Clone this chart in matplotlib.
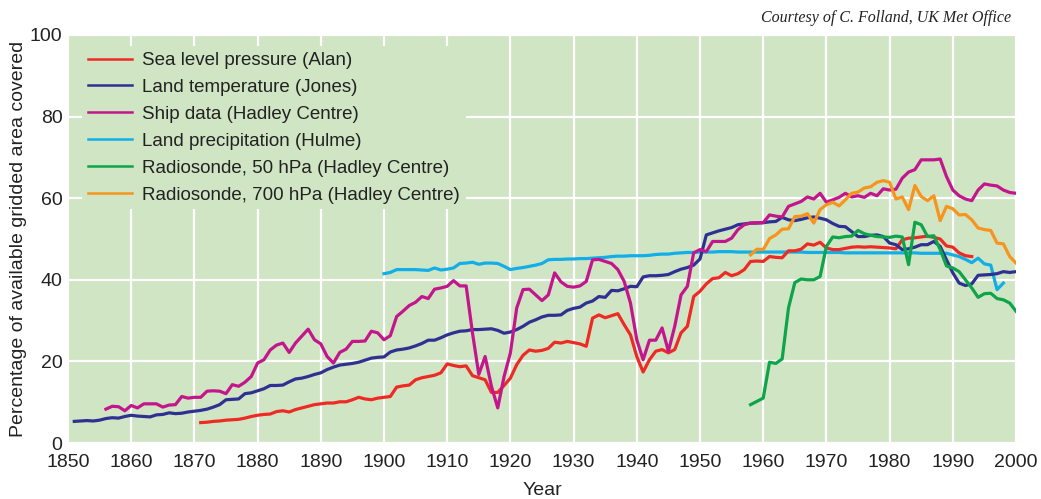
#!/usr/bin/env python3
"""Fraction of gridded area covered by climate data sets, 1850-2000."""

import matplotlib
matplotlib.use("Agg")
import matplotlib.pyplot as plt
import numpy as np

# ---- data (percent of available gridded area covered), annual values
slp_start = 1871
slp = [5.0, 5.1, 5.3, 5.4, 5.6, 5.7, 5.8, 6.1, 6.5, 6.8,
       7.0, 7.1, 7.7, 7.9, 7.6, 8.2, 8.6, 9.0, 9.4, 9.6,
       9.8, 9.8, 10.1, 10.1, 10.6, 11.2, 10.8, 10.6, 11.0, 11.2,
       11.4, 13.7, 14.0, 14.2, 15.5, 16.0, 16.3, 16.6, 17.2, 19.4,
       19.0, 18.7, 18.9, 16.5, 16.0, 15.5, 12.4, 12.4, 14.1, 15.9,
       19.2, 21.5, 22.8, 22.5, 22.7, 23.2, 24.7, 24.5, 24.9, 24.6,
       24.3, 23.7, 30.6, 31.4, 30.7, 31.2, 31.7, 29.0, 26.5, 21.2,
       17.4, 20.4, 22.5, 22.9, 22.1, 22.9, 27.0, 28.6, 35.9, 37.2,
       39.0, 40.3, 40.5, 41.8, 41.0, 41.5, 42.5, 44.5, 44.6, 44.5,
       45.7, 45.5, 45.4, 47.1, 47.1, 47.5, 48.8, 48.5, 49.2, 47.8,
       47.4, 47.4, 47.7, 48.0, 48.1, 48.0, 48.1, 48.0, 47.9, 47.8,
       47.6, 49.8, 50.2, 50.3, 50.5, 50.7, 50.4, 50.0, 48.3, 48.0,
       46.6, 45.9, 45.7]

land_temp_start = 1851
land_temp = [5.3, 5.4, 5.5, 5.4, 5.6, 6.0, 6.2, 6.1, 6.5, 6.8,
             6.6, 6.5, 6.4, 6.9, 7.0, 7.4, 7.2, 7.3, 7.6, 7.8,
             8.0, 8.3, 8.8, 9.4, 10.6, 10.7, 10.8, 12.1, 12.3, 12.8,
             13.3, 14.1, 14.1, 14.2, 15.0, 15.7, 15.9, 16.3, 16.8, 17.2,
             18.0, 18.6, 19.1, 19.3, 19.5, 19.8, 20.3, 20.8, 21.0, 21.1,
             22.3, 22.8, 23.0, 23.3, 23.8, 24.4, 25.2, 25.2, 25.8, 26.5,
             27.0, 27.4, 27.5, 27.8, 27.8, 27.9, 28.0, 27.6, 26.9, 27.2,
             27.8, 28.6, 29.6, 30.2, 30.9, 31.3, 31.3, 31.4, 32.5, 33.0,
             33.3, 34.3, 34.8, 35.9, 35.7, 37.4, 37.3, 37.8, 38.4, 38.3,
             40.7, 41.0, 41.0, 41.1, 41.3, 42.0, 42.6, 43.0, 43.6, 45.1,
             51.0, 51.5, 52.0, 52.4, 52.8, 53.5, 53.7, 53.9, 53.9, 54.0,
             54.2, 54.3, 55.3, 54.7, 54.5, 54.8, 55.2, 55.4, 55.1, 54.7,
             53.8, 53.1, 53.0, 51.8, 50.6, 50.6, 50.9, 51.0, 50.6, 49.0,
             48.6, 47.4, 47.6, 48.0, 48.6, 48.6, 49.4, 48.2, 44.9, 41.7,
             39.2, 38.6, 39.0, 41.1, 41.2, 41.3, 41.5, 42.0, 41.8, 42.0]

ship_start = 1856
ship = [8.3, 9.0, 8.9, 7.9, 9.2, 8.6, 9.6, 9.6, 9.6, 8.8,
        9.3, 9.4, 11.4, 11.0, 11.2, 11.2, 12.7, 12.8, 12.7, 12.1,
        14.3, 13.9, 14.9, 16.3, 19.6, 20.4, 22.8, 24.0, 24.5, 22.2,
        24.5, 26.2, 27.9, 25.3, 24.3, 21.2, 19.6, 22.2, 23.0, 24.9,
        24.9, 25.0, 27.4, 27.0, 25.3, 26.3, 31.0, 32.3, 33.7, 34.5,
        35.9, 35.4, 37.7, 38.0, 38.4, 39.8, 38.5, 38.5, 27.0, 16.8,
        21.2, 13.9, 8.6, 16.3, 22.1, 33.1, 37.6, 37.7, 36.3, 34.9,
        36.3, 41.7, 39.5, 38.4, 38.2, 38.5, 39.6, 44.9, 45.0, 44.5,
        44.0, 42.5, 39.6, 34.3, 25.3, 20.4, 25.2, 25.2, 28.2, 22.5,
        28.6, 36.3, 38.4, 46.6, 47.4, 46.9, 49.4, 49.4, 49.4, 50.2,
        52.3, 53.5, 53.9, 54.0, 54.0, 55.9, 55.6, 55.4, 58.0, 58.6,
        59.2, 60.3, 59.8, 61.2, 59.0, 59.6, 60.2, 61.2, 60.3, 60.6,
        60.2, 61.2, 60.6, 62.3, 62.0, 62.2, 64.9, 66.4, 67.0, 69.4,
        69.4, 69.4, 69.6, 65.3, 62.0, 60.6, 59.8, 59.4, 62.0, 63.5,
        63.2, 63.0, 62.0, 61.4, 61.2]

precip_start = 1900
precip = [41.5, 41.8, 42.5, 42.5, 42.5, 42.5, 42.4, 42.3, 42.9, 42.4,
          42.6, 42.9, 44.0, 44.1, 44.3, 43.8, 44.1, 44.1, 44.0, 43.3,
          42.5, 42.8, 43.0, 43.3, 43.6, 44.0, 44.9, 45.0, 45.0, 45.1,
          45.1, 45.2, 45.2, 45.3, 45.4, 45.5, 45.7, 45.8, 45.8, 45.9,
          45.9, 45.9, 46.0, 46.2, 46.3, 46.3, 46.5, 46.6, 46.7, 46.7,
          46.8, 46.8, 46.8, 46.9, 46.9, 46.9, 46.8, 46.8, 46.8, 46.8,
          46.8, 46.8, 46.8, 46.8, 46.8, 46.8, 46.8, 46.7, 46.7, 46.7,
          46.7, 46.7, 46.7, 46.6, 46.6, 46.6, 46.6, 46.6, 46.6, 46.6,
          46.6, 46.6, 46.6, 46.6, 46.6, 46.5, 46.5, 46.5, 46.5, 46.5,
          46.1, 45.7, 45.0, 44.2, 45.3, 43.9, 43.6, 37.6, 39.2]

rs50_start = 1958
rs50 = [9.4, 10.2, 11.0, 19.8, 19.5, 20.6, 33.1, 39.3, 40.2, 40.0,
        40.0, 40.8, 48.2, 50.5, 50.3, 50.6, 50.7, 52.1, 51.3, 50.9,
        50.6, 50.5, 50.4, 50.7, 50.5, 43.7, 54.1, 53.5, 50.6, 50.8,
        47.4, 43.4, 42.9, 42.0, 40.0, 38.0, 35.7, 36.6, 36.7, 35.4,
        35.1, 34.3, 32.3]

rs700_start = 1958
rs700 = [46.1, 47.5, 47.4, 50.1, 51.0, 52.4, 52.5, 55.5, 55.6, 56.2,
         53.9, 57.2, 58.4, 59.0, 58.1, 59.6, 61.2, 61.5, 62.5, 62.8,
         63.9, 64.3, 63.9, 59.8, 60.3, 57.2, 63.1, 60.4, 59.4, 60.6,
         54.5, 58.0, 57.4, 55.9, 56.0, 54.7, 52.7, 52.3, 52.1, 49.0,
         48.8, 45.7, 44.1]

labels = [
    "Sea level pressure (Alan)",
    "Land temperature (Jones)",
    "Ship data (Hadley Centre)",
    "Land precipitation (Hulme)",
    "Radiosonde, 50 hPa (Hadley Centre)",
    "Radiosonde, 700 hPa (Hadley Centre)",
]
colors = ["#ee2a24", "#2e3192", "#c4168c", "#12aee8", "#0ea44a", "#f7941d"]

x_ticks = list(range(1850, 2001, 10))
y_ticks = [0, 20, 40, 60, 80, 100]

BG = "#d0e5c4"


def main():
    plt.rcParams["font.family"] = ["Liberation Sans", "DejaVu Sans"]

    fig = plt.figure(figsize=(10.41, 4.99), dpi=100)
    ax = fig.add_axes([0.0653, 0.1122, 0.9107, 0.8177])
    ax.set_facecolor(BG)

    series = [
        (slp_start, slp),
        (land_temp_start, land_temp),
        (ship_start, ship),
        (precip_start, precip),
        (rs50_start, rs50),
        (rs700_start, rs700),
    ]
    # draw order: later series on top, roughly as in the original
    order = [3, 0, 1, 2, 4, 5]
    for i in order:
        start, vals = series[i]
        years = np.arange(start, start + len(vals))
        ax.plot(years, vals, color=colors[i], lw=2.3,
                solid_joinstyle="round", zorder=3)

    ax.set_xlim(1850, 2000)
    ax.set_ylim(0, 100)
    ax.set_xticks(x_ticks)
    ax.set_yticks(y_ticks)
    ax.tick_params(length=0, labelsize=14, colors="#222222", pad=8)
    ax.tick_params(axis="y", pad=4)
    ax.grid(True, color="white", lw=1.6)
    ax.set_axisbelow(True)
    for sp in ax.spines.values():
        sp.set_visible(False)

    ax.set_xlabel("Year", fontsize=14, color="#222222", labelpad=8)
    ax.set_ylabel("Percentage of available gridded area covered",
                  fontsize=14, color="#222222")
    ax.yaxis.label.set_va("center")
    ax.yaxis.set_label_coords(-0.0527, 0.5)

    handles = [plt.Line2D([], [], color=c, lw=1.8) for c in colors]
    leg = ax.legend(handles, labels, loc="upper left",
                    bbox_to_anchor=(0.015, 0.972), borderaxespad=0,
                    fontsize=13.5, frameon=True, facecolor=BG,
                    edgecolor="none", framealpha=1.0, fancybox=False,
                    handlelength=2.35, handletextpad=0.55,
                    labelspacing=0.52, borderpad=0.3)
    for t in leg.get_texts():
        t.set_color("#222222")
    leg.set_zorder(2.5)

    fig.text(1011 / 1041, 1 - 18 / 499, "Courtesy of C. Folland, UK Met Office",
             ha="right", va="center", fontsize=11.5, style="italic",
             family=["Liberation Serif", "DejaVu Serif"], color="#222222")

    fig.savefig("out.png", dpi=100, facecolor="white")
    plt.close(fig)


if __name__ == "__main__":
    main()
